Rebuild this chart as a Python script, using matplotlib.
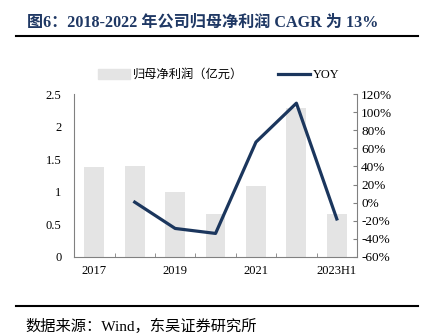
import numpy as np
import matplotlib
matplotlib.use("Agg")
import matplotlib.pyplot as plt
from matplotlib.lines import Line2D
from matplotlib.ticker import FuncFormatter

plt.rcParams['font.family'] = ['Liberation Serif', 'Noto Sans CJK SC']

years = ['2017', '2018', '2019', '2020', '2021', '2022', '2023H1']
profit = [1.38, 1.39, 0.99, 0.66, 1.09, 2.28, 0.66]
yoy = [np.nan, 0.6, -28.5, -34.0, 67.0, 110.0, -18.0]
tick_labels = ['2017', '', '2019', '', '2021', '', '2023H1']

navy = '#1f3864'
line_col = '#1b365d'

fig = plt.figure(figsize=(4.21, 3.35), dpi=100)
ax = fig.add_axes([0.176, 0.233, 0.672, 0.486])
x = np.arange(len(years))
ax.bar(x, profit, width=0.49, color='#e4e4e4', zorder=1)
ax.set_xlim(-0.5, len(years) - 0.5)
ax.set_ylim(0, 2.5)
ax.set_yticks([0, 0.5, 1, 1.5, 2, 2.5])
ax.yaxis.set_major_formatter(FuncFormatter(lambda v, p: '%g' % v))
ax.set_xticks(x)
ax.set_xticklabels(tick_labels)
ax.set_xticks(np.arange(0.5, len(years) - 0.5, 1), minor=True)
ax.tick_params(axis='x', which='major', length=0, pad=6, labelsize=9)
ax.tick_params(axis='x', which='minor', direction='in', length=3, color='#808080')
ax.tick_params(axis='y', length=0, pad=9, labelsize=9)
for s in ['top', 'right']:
    ax.spines[s].set_visible(False)
ax.spines['left'].set_color('#808080')
ax.spines['bottom'].set_color('#808080')

ax2 = ax.twinx()
ax2.plot(x, yoy, color=line_col, lw=2.3, zorder=3)
ax2.set_ylim(-60, 120)
ax2.set_yticks(np.arange(-60, 121, 20))
ax2.yaxis.set_major_formatter(FuncFormatter(lambda v, p: '%d%%' % v))
ax2.tick_params(axis='y', direction='in', length=3, color='#808080', pad=3, labelsize=9.5)
for s in ['top', 'left', 'bottom']:
    ax2.spines[s].set_visible(False)
ax2.spines['right'].set_color('#808080')

handles = [plt.Rectangle((0, 0), 1, 1, color='#e4e4e4'),
           Line2D([0], [0], color=line_col, lw=2.3)]
fig.legend(handles, ['归母净利润（亿元）', 'YOY'], loc='center', bbox_to_anchor=(0.52, 0.776),
           ncol=2, frameon=False, fontsize=8.8, handlelength=2.6, handleheight=0.9,
           columnspacing=2.8, handletextpad=0.3)

fig.text(0.064, 0.934, '图6：2018-2022 年公司归母净利润 CAGR 为 13%', color=navy,
         fontsize=11.6, fontweight='bold', va='center', ha='left')
fig.add_artist(Line2D([0.038, 0.993], [0.892, 0.892], color='black', lw=1.5))
fig.add_artist(Line2D([0.038, 0.993], [0.087, 0.087], color='black', lw=1.5))
fig.text(0.06, 0.026, '数据来源：Wind，东吴证券研究所', fontsize=11, va='center', ha='left')

fig.savefig('out.png', dpi=100)
